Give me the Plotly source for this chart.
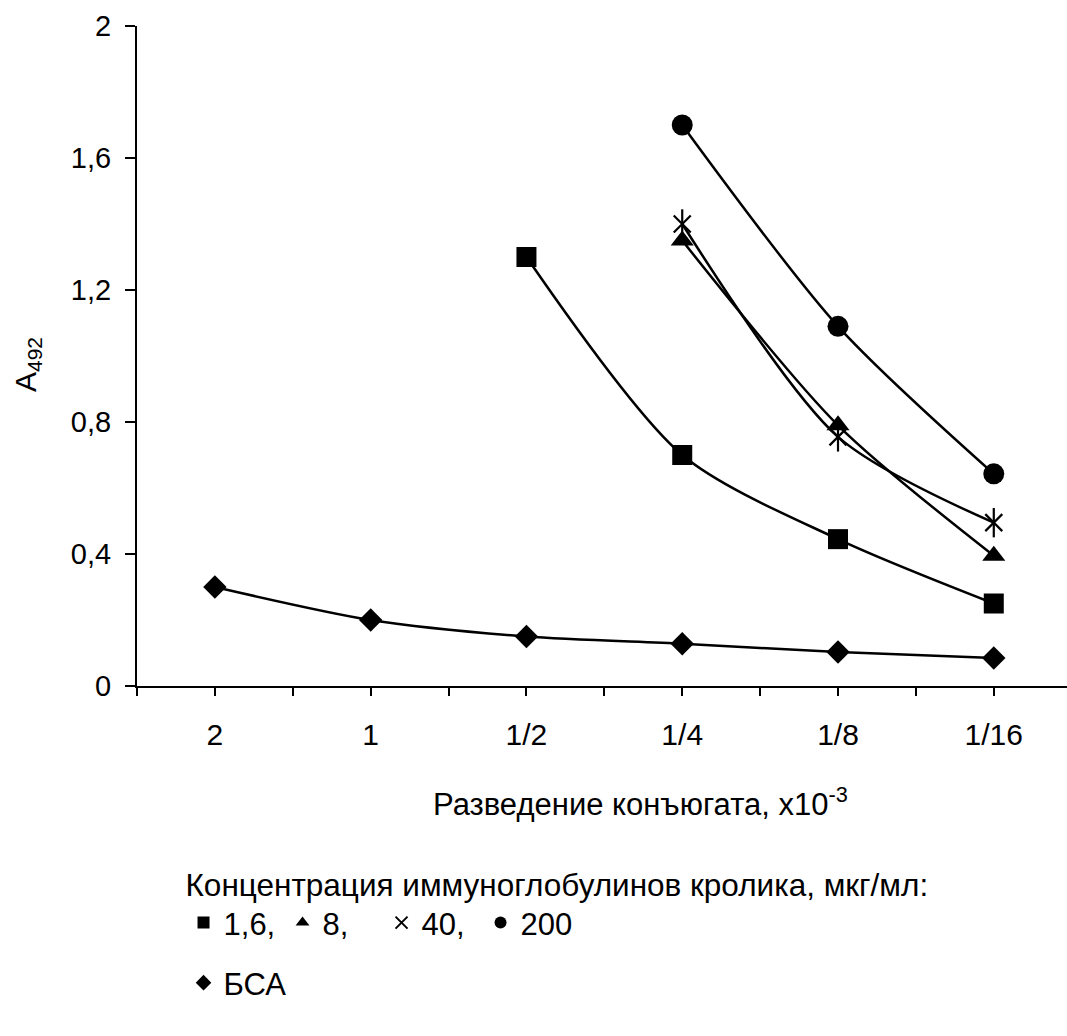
import plotly.graph_objects as go

# Conjugate dilution categories (x10^-3)
dilutions = ["2", "1", "1/2", "1/4", "1/8", "1/16"]

# A492 readings per rabbit immunoglobulin concentration (None = not measured)
conc_1_6 = [None, None, 1.30, 0.70, 0.445, 0.25]
conc_8 = [None, None, None, 1.35, 0.79, 0.395]
conc_40 = [None, None, None, 1.40, 0.755, 0.495]
conc_200 = [None, None, None, 1.70, 1.09, 0.643]
bsa = [0.30, 0.20, 0.15, 0.128, 0.103, 0.085]

y_ticks = [0, 0.4, 0.8, 1.2, 1.6, 2]
y_tick_text = ["0", "0,4", "0,8", "1,2", "1,6", "2"]

FONT = "Liberation Sans, Arial, sans-serif"
BLACK = "#000000"

xpos = list(range(len(dilutions)))

series = [
    ("1,6,", conc_1_6, "square", 20, "legend"),
    ("8,", conc_8, "triangle-up", 20, "legend"),
    ("40,", conc_40, "x-thin-open", 17, "legend"),
    ("200", conc_200, "circle", 21, "legend"),
    ("БСА", bsa, "diamond", 18, "legend2"),
]

fig = go.Figure()

for name, vals, sym, size, leg in series:
    # smoothed connecting line
    fig.add_trace(go.Scatter(
        x=xpos, y=vals, mode="lines", showlegend=False, hoverinfo="skip",
        line=dict(color=BLACK, width=2.5, shape="spline", smoothing=0.8),
    ))
for name, vals, sym, size, leg in series:
    if sym == "x-thin-open":
        # vertical stroke completing the six-armed star
        fig.add_trace(go.Scatter(
            x=xpos, y=vals, mode="markers", showlegend=False, hoverinfo="skip",
            marker=dict(symbol="line-ns-open", size=size + 4, color=BLACK,
                        line=dict(color=BLACK, width=2.2)),
        ))
        marker = dict(symbol=sym, size=size, color=BLACK,
                      line=dict(color=BLACK, width=2.2))
    else:
        marker = dict(symbol=sym, size=size, color=BLACK,
                      line=dict(color=BLACK, width=0))
    fig.add_trace(go.Scatter(
        x=xpos, y=vals, mode="markers", name=name, legend=leg,
        marker=marker,
    ))

# minor ticks mark the category boundaries
boundaries = [i - 0.5 for i in range(len(dilutions) + 1)]

fig.update_layout(
    width=1067, height=1036,
    margin=dict(l=137, r=0, t=26, b=350),
    paper_bgcolor="white", plot_bgcolor="white",
    font=dict(family=FONT, color=BLACK, size=30),
    xaxis=dict(
        range=[-0.5, len(dilutions) - 0.53],
        tickmode="array", tickvals=xpos, ticktext=dilutions,
        ticks="outside", ticklen=8, tickwidth=1.5, tickcolor=BLACK,
        minor=dict(tickmode="array", tickvals=boundaries, ticks="outside",
                   ticklen=8, tickwidth=1.5, tickcolor=BLACK, showgrid=False),
        showline=True, linecolor=BLACK, linewidth=2,
        showgrid=False, zeroline=False,
        tickfont=dict(size=30), ticklabelstandoff=13,
    ),
    yaxis=dict(
        range=[0, 2],
        tickmode="array", tickvals=y_ticks, ticktext=y_tick_text,
        ticks="outside", ticklen=10, tickwidth=1.5, tickcolor=BLACK,
        showline=True, linecolor=BLACK, linewidth=2,
        showgrid=False, zeroline=False,
        tickfont=dict(size=29), ticklabelstandoff=8,
    ),
    legend=dict(
        orientation="h", xref="container", yref="container",
        x=0.172, y=1 - 855 / 1036, xanchor="left", yanchor="top",
        title=dict(text="Концентрация иммуноглобулинов кролика, мкг/мл:",
                   side="top", font=dict(size=31.5)),
        font=dict(size=31), itemsizing="constant",
        entrywidth=54, entrywidthmode="pixels",
        bgcolor="rgba(0,0,0,0)",
    ),
    legend2=dict(
        orientation="h", xref="container", yref="container",
        x=0.172, y=1 - 956 / 1036, xanchor="left", yanchor="top",
        font=dict(size=31), itemsizing="constant",
        bgcolor="rgba(0,0,0,0)",
    ),
    annotations=[
        dict(text="Разведение конъюгата, x10<sup>-3</sup>",
             xref="paper", yref="paper", x=(640 - 137) / 930, y=-(802 - 686) / 660,
             xanchor="center", yanchor="middle", showarrow=False,
             font=dict(size=31)),
        dict(text="A<sub>492</sub>",
             xref="paper", yref="paper", x=-(137 - 27) / 930, y=(686 - 365) / 660,
             xanchor="center", yanchor="middle", showarrow=False, textangle=-90,
             font=dict(size=30)),
    ],
)

fig.write_html("out.html")
